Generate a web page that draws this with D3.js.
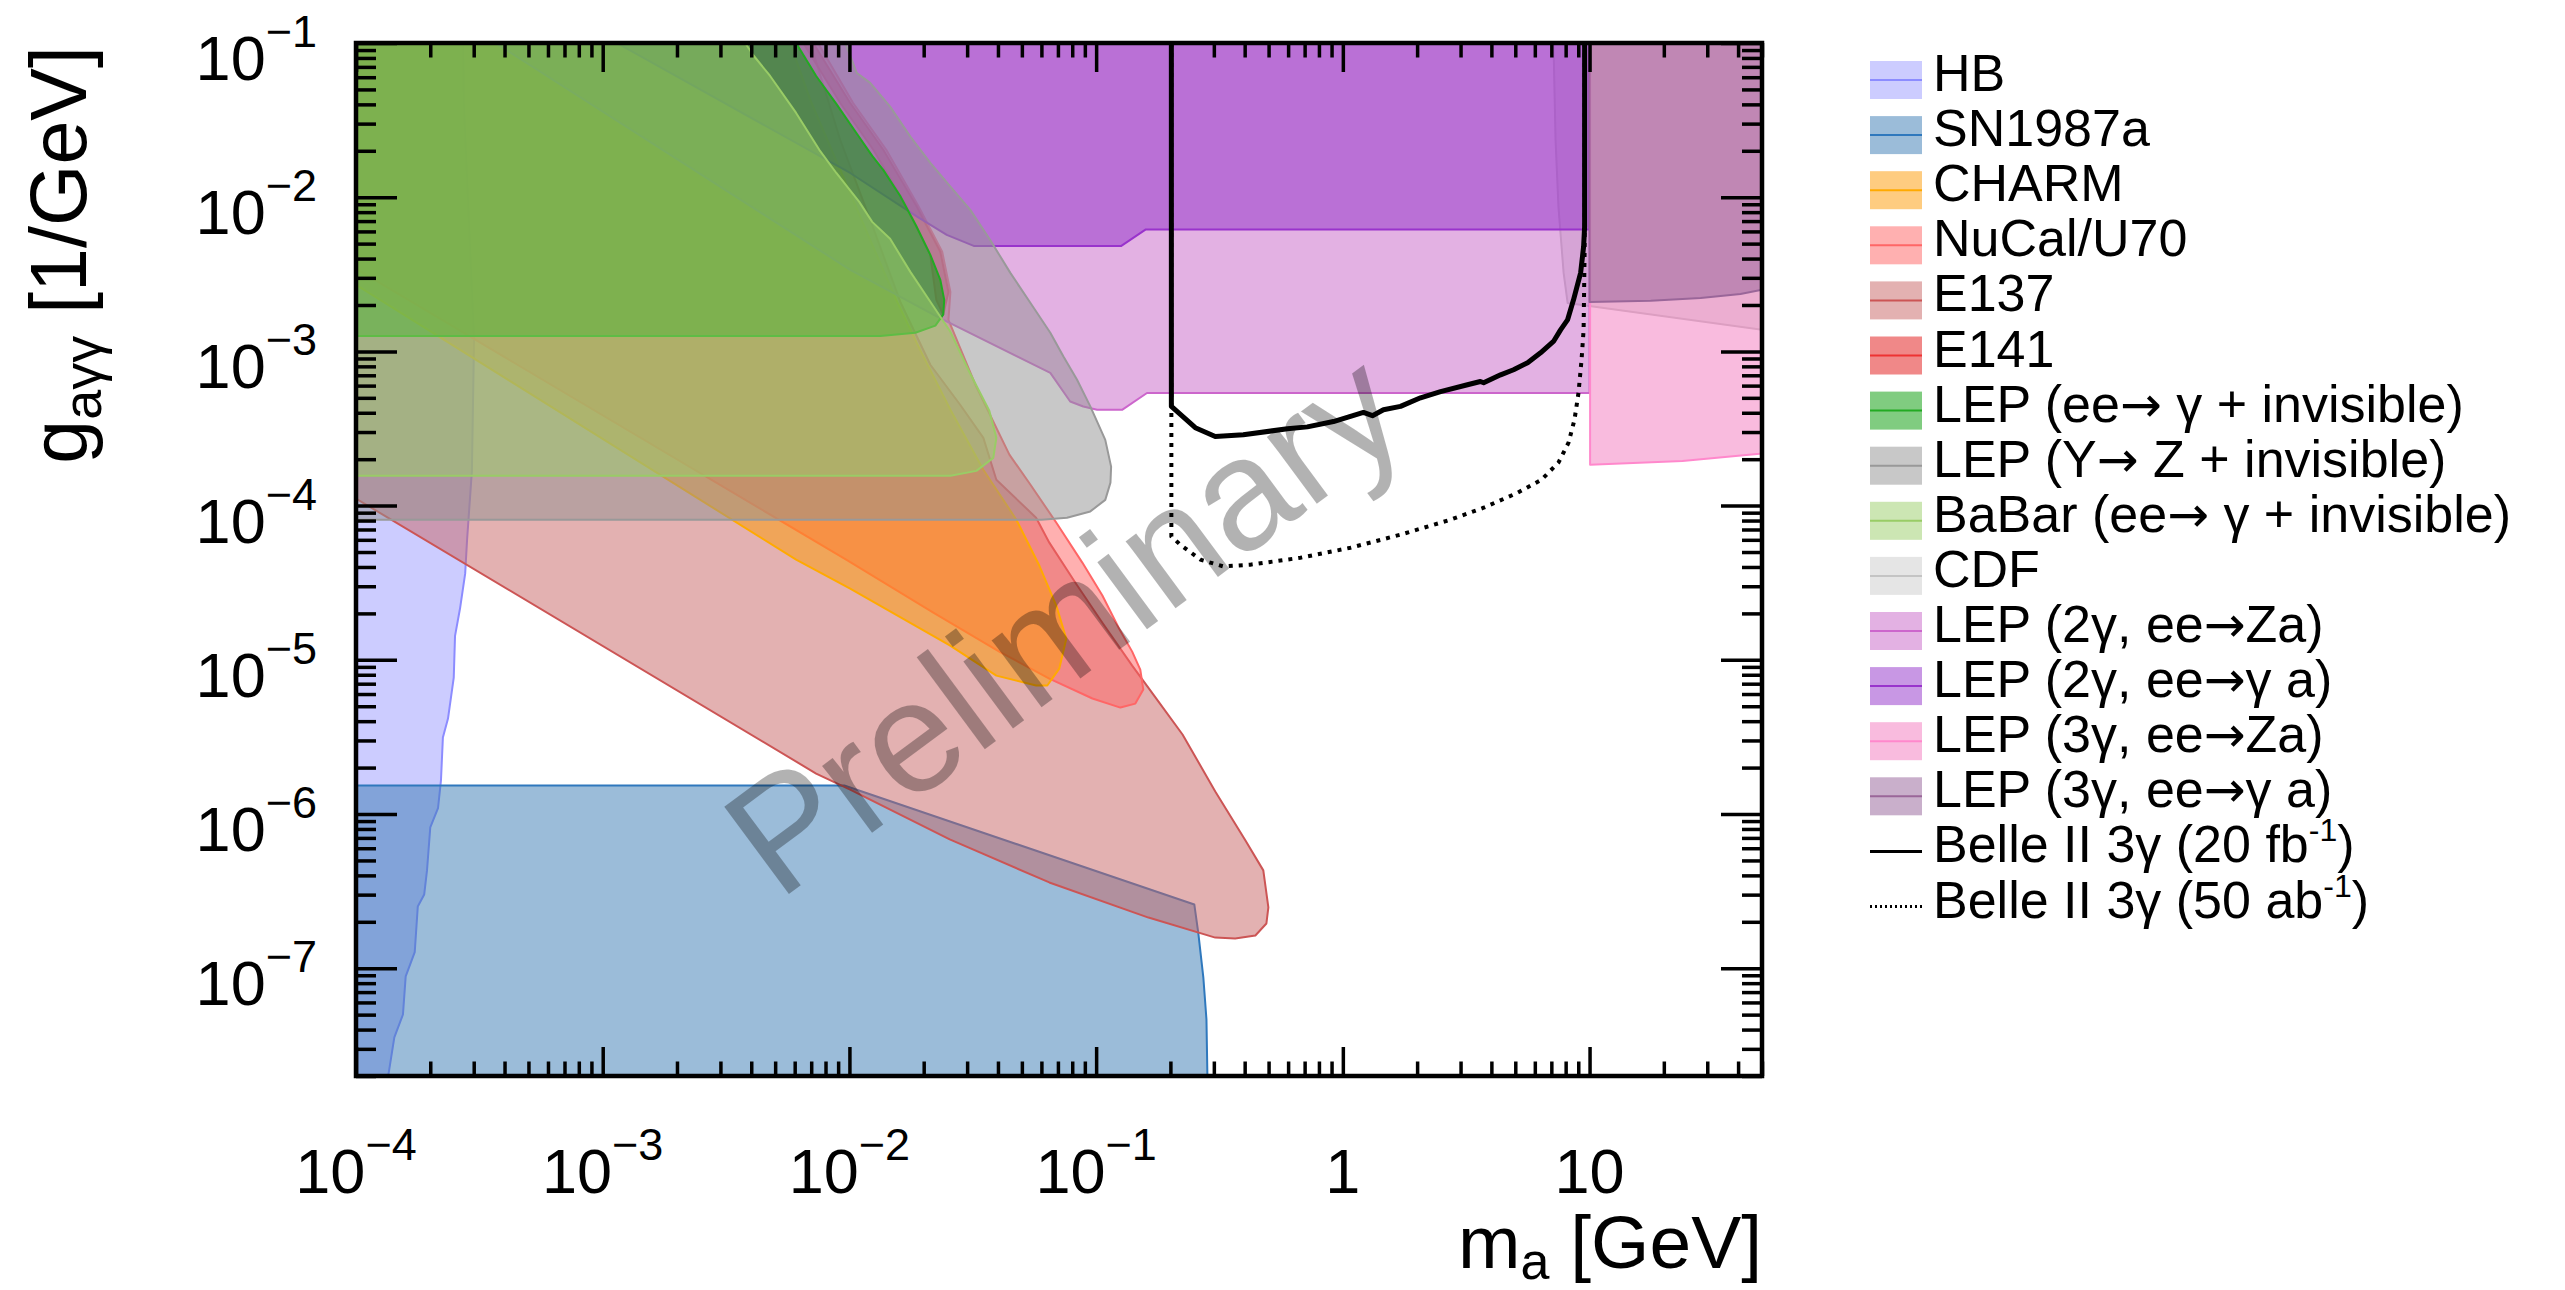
<!DOCTYPE html>
<html><head><meta charset="utf-8">
<script src="https://cdn.jsdelivr.net/npm/d3@7"></script>
<style>
body{margin:0;background:#fff}
svg{display:block}
text{font-family:"Liberation Sans",Arial,Helvetica,sans-serif;white-space:pre}
</style>
</head><body>
<svg id="c" width="2565" height="1290"></svg>
<script>
// ---------------- data (m_a [GeV], g_agg [1/GeV]) ----------------
const cdfM = [7.14, 7.28, 7.48, 7.85, 8.15, 50, 50];
const cdfG = [0.1, 0.0235, 8.65e-3, 3.23e-3, 2.06e-3, 1.38e-3, 0.1];

const hbM = [1e-4, 2.72e-4, 2.74e-4, 3.01e-4, 2.95e-4, 2.82e-4, 2.77e-4, 2.64e-4, 2.52e-4, 2.49e-4, 2.36e-4, 2.25e-4, 2.21e-4, 2.15e-4, 2.0e-4, 1.94e-4, 1.89e-4, 1.78e-4, 1.73e-4, 1.59e-4, 1.55e-4, 1.43e-4, 1.36e-4, 1.35e-4, 1e-4];
const hbG = [0.1, 0.1, 0.0391, 1.22e-3, 1.68e-4, 6.01e-5, 3.62e-5, 2.15e-5, 1.43e-5, 7.67e-6, 4.16e-6, 3.13e-6, 1.65e-6, 1.09e-6, 8.18e-7, 4.31e-7, 3.01e-7, 2.51e-7, 1.27e-7, 8.85e-8, 5.01e-8, 3.56e-8, 2.14e-8, 2e-8, 2e-8];

const snM = [1e-4, 1e-4, 9.53e-3, 0.250, 0.2596, 0.272, 0.280, 0.2825];
const snG = [2e-8, 1.53e-6, 1.53e-6, 2.59e-7, 1.68e-7, 8.7e-8, 4.66e-8, 2e-8];

const e137M = [1e-4, 7.33e-3, 0.01007, 0.0255, 0.0646, 0.163, 0.304, 0.366, 0.442, 0.490, 0.499, 0.476, 0.403, 0.304, 0.224, 0.179, 0.140, 0.106, 0.0824, 0.0646, 0.0571, 0.0394, 0.0349, 0.0281, 0.02128, 0.01607, 0.01214, 9.18e-3, 6.94e-3, 1e-4];
const e137G = [1.11e-4, 1.83e-6, 1.44e-6, 6.84e-7, 3.6e-7, 2.13e-7, 1.58e-7, 1.56e-7, 1.63e-7, 1.95e-7, 2.48e-7, 4.31e-7, 6.73e-7, 1.40e-6, 3.28e-6, 5.36e-6, 9.17e-6, 1.74e-5, 3.16e-5, 5.75e-5, 8.35e-5, 1.47e-4, 2.75e-4, 4.51e-4, 8.19e-4, 2.10e-3, 7.13e-3, 0.0235, 0.1, 0.1];

const nucalM = [1e-4, 9.7e-3, 0.02188, 0.0405, 0.0646, 0.0966, 0.1254, 0.1442, 0.1553, 0.151, 0.140, 0.124, 0.106, 0.0879, 0.069, 0.0541, 0.0445, 0.0324, 0.0252, 0.02566, 0.02377, 0.0190, 0.0141, 0.01035, 7.46e-3, 1e-4];
const nucalG = [3.43e-3, 4.46e-5, 2.02e-5, 1.13e-5, 7.55e-6, 5.61e-6, 4.90e-6, 5.2e-6, 6.41e-6, 8.64e-6, 1.13e-5, 1.59e-5, 2.61e-5, 4.27e-5, 7.74e-5, 1.37e-4, 2.14e-4, 6.08e-4, 1.60e-3, 2.43e-3, 4.43e-3, 8.8e-3, 0.0203, 0.0408, 0.1, 0.1];

const charmM = [1e-4, 6.08e-3, 0.01007, 0.02552, 0.0394, 0.0571, 0.0634, 0.0709, 0.0757, 0.069, 0.0589, 0.0475, 0.0349, 0.02566, 0.01937, 0.01548, 0.01214, 9.18e-3, 6.94e-3, 5.75e-3, 1e-4];
const charmG = [2.70e-3, 4.46e-5, 2.89e-5, 1.24e-5, 7.9e-6, 6.81e-6, 6.81e-6, 8.77e-6, 1.37e-5, 2.24e-5, 4.07e-5, 8.1e-5, 1.71e-4, 4.19e-4, 1.02e-3, 2.16e-3, 5.28e-3, 0.01504, 0.0428, 0.1, 0.1];

const e141M = [7.13e-3, 0.01007, 0.01371, 0.01866, 0.02336, 0.0252, 0.024, 0.0225, 0.02128, 0.0170, 0.0125, 9.18e-3, 6.5e-3];
const e141G = [0.1, 0.0408, 0.0203, 8.8e-3, 4.43e-3, 2.43e-3, 1.73e-3, 2.16e-3, 4.23e-3, 8.8e-3, 0.0203, 0.0408, 0.1];

const za2M = [3.67e-4, 0.01007, 0.02265, 0.0652, 0.0785, 0.0887, 0.1009, 0.1274, 0.1607, 10, 10];
const za2G = [0.1, 3.38e-3, 1.68e-3, 7.26e-4, 4.73e-4, 4.39e-4, 4.18e-4, 4.18e-4, 5.37e-4, 5.37e-4, 0.1];

const ga2M = [1.14e-3, 0.01007, 0.0188, 0.0248, 0.0319, 0.1265, 0.159, 10, 10];
const ga2G = [0.1, 0.01436, 7.48e-3, 5.70e-3, 4.83e-3, 4.83e-3, 6.18e-3, 6.18e-3, 0.1];

const za3M = [10.05, 10.05, 23.8, 48.9, 50, 50];
const za3G = [0.1, 1.84e-4, 1.95e-4, 2.17e-4, 2.2e-4, 0.1];

const ga3M = [10.0, 10.0, 17.7, 28.2, 40.9, 50, 50];
const ga3G = [0.1, 2.09e-3, 2.13e-3, 2.22e-3, 2.36e-3, 2.51e-3, 0.1];

const grayM = [1e-4, 0.06, 0.0762, 0.0947, 0.1089, 0.1143, 0.115, 0.1089, 0.0947, 0.0837, 0.0737, 0.0652, 0.0541, 0.0449, 0.0372, 0.0309, 0.02566, 0.02128, 0.01766, 0.01462, 0.01214, 0.01072, 9.62e-3, 1e-4];
const grayG = [8.11e-5, 8.11e-5, 8.35e-5, 9.17e-5, 1.09e-4, 1.41e-4, 1.79e-4, 2.67e-4, 4.40e-4, 6.55e-4, 9.27e-4, 1.32e-3, 2.07e-3, 3.23e-3, 5.28e-3, 8.27e-3, 0.01172, 0.01668, 0.0247, 0.0387, 0.0551, 0.0639, 0.1, 0.1];

const greenM = [1e-4, 6.08e-3, 7.33e-3, 8.85e-3, 0.01067, 0.01237, 0.01371, 0.01607, 0.01866, 0.02128, 0.02336, 0.02423, 0.024, 0.0223, 0.0185, 0.01334, 1e-4];
const greenG = [0.1, 0.1, 0.0611, 0.0403, 0.0261, 0.01853, 0.01504, 0.01019, 6.51e-3, 4.23e-3, 2.91e-3, 2.16e-3, 1.73e-3, 1.47e-3, 1.32e-3, 1.26e-3, 1.26e-3];

const babarM = [1e-4, 3.78e-3, 4.07e-3, 4.77e-3, 6.08e-3, 7.55e-3, 8.85e-3, 0.01096, 0.01237, 0.01462, 0.01766, 0.02128, 0.02566, 0.0306, 0.0369, 0.0394, 0.0383, 0.0327, 0.02566, 1e-4];
const babarG = [0.1, 0.1, 0.0836, 0.0611, 0.0352, 0.0203, 0.01436, 9.33e-3, 6.92e-3, 5.37e-3, 3.28e-3, 2.10e-3, 1.34e-3, 7.38e-4, 4.12e-4, 2.75e-4, 2.04e-4, 1.68e-4, 1.56e-4, 1.56e-4];

const belle20M = [0.2018, 0.2018, 0.2523, 0.304, 0.395, 0.596, 0.718, 0.916, 1.212, 1.318, 1.461, 1.713, 2.065, 2.489, 3.20, 3.61, 3.72, 4.36, 4.92, 5.61, 6.33, 7.14, 7.63, 8.14, 8.61, 9.2, 9.46, 9.55, 9.55];
const belle20G = [0.1, 4.40e-4, 3.20e-4, 2.81e-4, 2.88e-4, 3.15e-4, 3.24e-4, 3.51e-4, 4.02e-4, 3.83e-4, 4.18e-4, 4.40e-4, 5.0e-4, 5.49e-4, 6.08e-4, 6.38e-4, 6.26e-4, 7.05e-4, 7.6e-4, 8.44e-4, 9.8e-4, 1.16e-3, 1.38e-3, 1.60e-3, 2.16e-3, 3.23e-3, 4.78e-3, 6.44e-3, 0.1];

const belle50M = [0.2018, 0.2018, 0.2193, 0.265, 0.328, 0.422, 0.673, 1.074, 1.713, 2.73, 3.72, 5.10, 6.38, 7.48, 8.22, 8.69, 9.02, 9.28, 9.46, 9.55, 9.55];
const belle50G = [0.1, 6.31e-5, 5.58e-5, 4.46e-5, 4.03e-5, 4.14e-5, 4.59e-5, 5.33e-5, 6.48e-5, 8.1e-5, 9.69e-5, 1.21e-4, 1.47e-4, 1.90e-4, 2.56e-4, 3.61e-4, 5.39e-4, 8.83e-4, 1.38e-3, 4.55e-3, 0.1];

const xMajor = [1e-4, 1e-3, 1e-2, 1e-1, 1, 10];
const xTickLabels = ["10^{−4}", "10^{−3}", "10^{−2}", "10^{−1}", "1", "10"];
const yMajor = [1e-7, 1e-6, 1e-5, 1e-4, 1e-3, 1e-2, 1e-1];
const yTickLabels = ["10^{−7}", "10^{−6}", "10^{−5}", "10^{−4}", "10^{−3}", "10^{−2}", "10^{−1}"];

const legendLabels = ["HB", "SN1987a", "CHARM", "NuCal/U70", "E137", "E141",
  "LEP (ee→ γ + invisible)", "LEP (Y→ Z + invisible)", "BaBar (ee→ γ + invisible)", "CDF",
  "LEP (2γ, ee→Za)", "LEP (2γ, ee→γ a)", "LEP (3γ, ee→Za)", "LEP (3γ, ee→γ a)",
  "Belle II 3γ (20 fb^{-1})", "Belle II 3γ (50 ab^{-1})"];

// ---------------- styles ----------------
const sty = {
  cdf:   {fill:"#cbcbcb", stroke:"#c4c4c4"},
  hb:    {fill:"#9999ff", stroke:"#8c8cff"},
  sn:    {fill:"#3779b3", stroke:"#2f78bd"},
  e137:  {fill:"#c76363", stroke:"#cc5555"},
  nucal: {fill:"#ff6161", stroke:"#ff6666"},
  charm: {fill:"#fd9901", stroke:"#ffaa00"},
  e141:  {fill:"#e11111", stroke:"#ee3333"},
  za2:   {fill:"#c763c7", stroke:"#cc66cc"},
  ga2:   {fill:"#912fc9", stroke:"#9933cc"},
  za3:   {fill:"#f377bd", stroke:"#ff88cc"},
  ga3:   {fill:"#935f97", stroke:"#9a6699"},
  gray:  {fill:"#919191", stroke:"#999999"},
  green: {fill:"#019901", stroke:"#22aa22"},
  babar: {fill:"#99cd67", stroke:"#99cc66"}
};

const regions = [
  [cdfM, cdfG, sty.cdf], [hbM, hbG, sty.hb], [snM, snG, sty.sn], [e137M, e137G, sty.e137],
  [nucalM, nucalG, sty.nucal], [charmM, charmG, sty.charm], [e141M, e141G, sty.e141],
  [za2M, za2G, sty.za2], [ga2M, ga2G, sty.ga2], [za3M, za3G, sty.za3], [ga3M, ga3G, sty.ga3],
  [grayM, grayG, sty.gray], [greenM, greenG, sty.green], [babarM, babarG, sty.babar]
];

const legendStyles = [sty.hb, sty.sn, sty.charm, sty.nucal, sty.e137, sty.e141, sty.green, sty.gray,
  sty.babar, sty.cdf, sty.za2, sty.ga2, sty.za3, sty.ga3, "solid", "dotted"];

// ---------------- layout ----------------
const W = 2565, H = 1290;
const L = 356, R = 1762, T = 43, B = 1076;
const x = d3.scaleLog().domain([1e-4, 50]).range([L, R]);
const y = d3.scaleLog().domain([2e-8, 0.1]).range([B, T]);

const svg = d3.select("#c");
svg.append("rect").attr("width", W).attr("height", H).attr("fill", "#fff");
svg.append("defs").append("clipPath").attr("id", "plot")
  .append("rect").attr("x", L).attr("y", T).attr("width", R - L).attr("height", B - T);
const plot = svg.append("g").attr("clip-path", "url(#plot)");
const line = d3.line().x(d => x(d[0])).y(d => y(d[1]));
const pts = (m, g) => m.map((v, i) => [v, g[i]]);

regions.forEach(([m, g, s]) => {
  plot.append("path").attr("d", line(pts(m, g)) + "Z")
    .attr("fill", s.fill).attr("fill-opacity", 0.5)
    .attr("stroke", s.stroke).attr("stroke-width", 2).attr("stroke-linejoin", "round");
});

// watermark
plot.append("text")
  .attr("transform", `translate(${x(0.1)},${y(9e-6)}) rotate(-36.5)`)
  .attr("text-anchor", "middle").attr("font-size", 158)
  .attr("fill", "#000").attr("fill-opacity", 0.3).text("Preliminary");

// Belle II lines
plot.append("path").attr("d", line(pts(belle50M, belle50G))).attr("fill", "none")
  .attr("stroke", "#000").attr("stroke-width", 4).attr("stroke-dasharray", "4,6");
plot.append("path").attr("d", line(pts(belle20M, belle20G))).attr("fill", "none")
  .attr("stroke", "#000").attr("stroke-width", 5).attr("stroke-linejoin", "round");

// ---------------- axes ----------------
const xMinor = [], yMinor = [];
for (let k = -4; k <= 1; k++) for (let i = 2; i <= 9; i++) { const v = i * Math.pow(10, k); if (v <= 50.001) xMinor.push(v); }
for (let k = -8; k <= -2; k++) for (let i = 2; i <= 9; i++) { const v = i * Math.pow(10, k); if (v >= 1.999e-8 && v <= 0.1) yMinor.push(v); }

function addAxis(gen, tr) {
  const g = svg.append("g").attr("transform", tr).call(gen);
  g.select(".domain").remove();
  g.selectAll("text").remove();
  g.selectAll("line").attr("stroke", "#000").attr("stroke-width", 3.5);
}
addAxis(d3.axisBottom(x).tickValues(xMajor).tickSize(-29).tickFormat(""), `translate(0,${B})`);
addAxis(d3.axisBottom(x).tickValues(xMinor).tickSize(-14.5).tickFormat(""), `translate(0,${B})`);
addAxis(d3.axisTop(x).tickValues(xMajor).tickSize(-29).tickFormat(""), `translate(0,${T})`);
addAxis(d3.axisTop(x).tickValues(xMinor).tickSize(-14.5).tickFormat(""), `translate(0,${T})`);
addAxis(d3.axisLeft(y).tickValues(yMajor).tickSize(-41).tickFormat(""), `translate(${L},0)`);
addAxis(d3.axisLeft(y).tickValues(yMinor).tickSize(-20).tickFormat(""), `translate(${L},0)`);
addAxis(d3.axisRight(y).tickValues(yMajor).tickSize(-41).tickFormat(""), `translate(${R},0)`);
addAxis(d3.axisRight(y).tickValues(yMinor).tickSize(-20).tickFormat(""), `translate(${R},0)`);

svg.append("rect").attr("x", L).attr("y", T).attr("width", R - L).attr("height", B - T)
  .attr("fill", "none").attr("stroke", "#000").attr("stroke-width", 4.5);

// rich text helper: ^{..} superscript, _{..} subscript, → in DejaVu (wider arrow)
function rich(sel, str, size, small, up, down) {
  const parts = str.split(/(\^\{[^}]*\}|_\{[^}]*\}|→)/).filter(s => s.length);
  let off = 0;
  parts.forEach(p => {
    let target = 0, fs = size, t = p, fam = null;
    if (p.startsWith("^{")) { target = -up; fs = small; t = p.slice(2, -1); }
    else if (p.startsWith("_{")) { target = down; fs = small; t = p.slice(2, -1); }
    else if (p === "→") { fs = size * 0.96; fam = "DejaVu Sans"; }
    const ts = sel.append("tspan").attr("dy", target - off).attr("font-size", fs).text(t);
    if (fam) ts.attr("font-family", fam);
    off = target;
  });
}

xMajor.forEach((v, i) => {
  const t = svg.append("text").attr("x", x(v)).attr("y", 1193).attr("text-anchor", "middle").attr("fill", "#000");
  rich(t, xTickLabels[i], 63, 45, 33, 0);
});
yMajor.forEach((v, i) => {
  const t = svg.append("text").attr("x", 317).attr("y", y(v) + 37).attr("text-anchor", "end").attr("fill", "#000");
  rich(t, yTickLabels[i], 63, 45, 33, 0);
});

// axis titles
const xt = svg.append("text").attr("x", R).attr("y", 1268).attr("text-anchor", "end");
rich(xt, "m_{a} [GeV]", 75, 52, 0, 11);
const yt = svg.append("text").attr("transform", `translate(86,${T + 3}) rotate(-90)`).attr("text-anchor", "end");
rich(yt, "g_{aγγ} [1/GeV]", 79, 54, 0, 15);

// ---------------- legend ----------------
const legX = 1870, legW = 52, legH = 38, legY0 = 80, legDy = 55.1, textX = 1933;
legendLabels.forEach((lab, i) => {
  const cy = legY0 + i * legDy;
  const s = legendStyles[i];
  if (s === "solid" || s === "dotted") {
    const ln = svg.append("line").attr("x1", legX).attr("x2", legX + legW).attr("y1", cy).attr("y2", cy)
      .attr("stroke", "#000");
    if (s === "solid") ln.attr("stroke-width", 3);
    else ln.attr("stroke-width", 3).attr("stroke-dasharray", "2,3");
  } else {
    svg.append("rect").attr("x", legX).attr("y", cy - legH / 2).attr("width", legW).attr("height", legH)
      .attr("fill", s.fill).attr("fill-opacity", 0.5);
    svg.append("line").attr("x1", legX).attr("x2", legX + legW).attr("y1", cy).attr("y2", cy)
      .attr("stroke", s.stroke).attr("stroke-width", 2);
  }
  const t = svg.append("text").attr("x", textX).attr("y", cy + 11).attr("fill", "#000");
  rich(t, lab, 52, 32, 21, 0);
});
</script>
</body></html>
